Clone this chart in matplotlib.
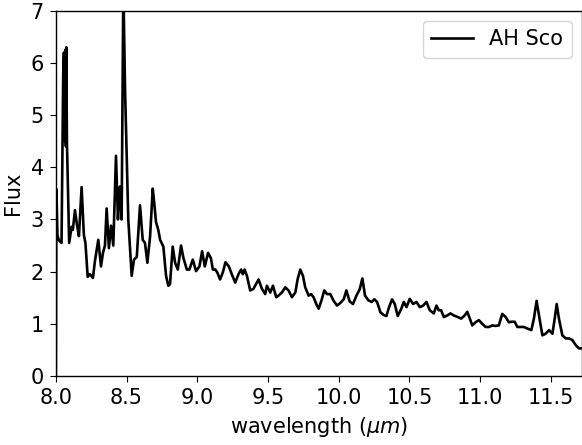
import matplotlib
matplotlib.use("Agg")
import matplotlib.pyplot as plt
import numpy as np

# spectrum of AH Sco
wavelength = [
    8.000, 8.004, 8.011, 8.021, 8.040, 8.052, 8.057, 8.064, 8.067, 8.071,
    8.074, 8.078, 8.094, 8.111, 8.120, 8.135, 8.149, 8.163, 8.182, 8.198,
    8.209, 8.225, 8.241, 8.262, 8.276, 8.300, 8.319, 8.333, 8.347, 8.359,
    8.375, 8.390, 8.406, 8.425, 8.439, 8.446, 8.453, 8.465, 8.477, 8.489,
    8.512, 8.536, 8.552, 8.572, 8.595, 8.614, 8.630, 8.647, 8.666, 8.685,
    8.696, 8.708, 8.724, 8.737, 8.760, 8.779, 8.795, 8.807, 8.826, 8.843,
    8.862, 8.885, 8.902, 8.926, 8.944, 8.968, 8.991, 9.015, 9.034, 9.053,
    9.076, 9.096, 9.110, 9.128, 9.142, 9.161, 9.181, 9.199, 9.223, 9.244,
    9.268, 9.291, 9.310, 9.322, 9.334, 9.351, 9.374, 9.397, 9.433, 9.457,
    9.480, 9.492, 9.516, 9.535, 9.558, 9.574, 9.598, 9.622, 9.645, 9.669,
    9.693, 9.709, 9.728, 9.747, 9.763, 9.787, 9.804, 9.822, 9.841, 9.858,
    9.877, 9.898, 9.917, 9.940, 9.964, 9.988, 10.011, 10.035, 10.054, 10.077,
    10.101, 10.125, 10.148, 10.167, 10.186, 10.210, 10.233, 10.252, 10.271, 10.295,
    10.318, 10.337, 10.356, 10.377, 10.396, 10.417, 10.441, 10.460, 10.479, 10.502,
    10.526, 10.550, 10.573, 10.597, 10.620, 10.644, 10.672, 10.691, 10.707, 10.724,
    10.743, 10.767, 10.790, 10.814, 10.842, 10.866, 10.890, 10.909, 10.927, 10.944,
    10.967, 10.991, 11.015, 11.038, 11.062, 11.086, 11.109, 11.132, 11.156, 11.180,
    11.203, 11.220, 11.244, 11.263, 11.286, 11.309, 11.333, 11.362, 11.380, 11.399,
    11.416, 11.440, 11.463, 11.487, 11.511, 11.527, 11.541, 11.557, 11.581, 11.605,
    11.628, 11.652, 11.676, 11.699, 11.725, 11.750,
]
flux = [
    0.00, 3.58, 2.70, 2.60, 2.55, 5.80, 6.20, 4.50, 6.25, 4.40,
    6.30, 4.50, 2.55, 2.86, 2.80, 3.18, 2.90, 2.68, 3.62, 2.70,
    2.55, 1.90, 1.95, 1.88, 2.20, 2.61, 2.10, 2.36, 2.50, 3.21,
    2.45, 2.88, 2.50, 4.22, 3.00, 3.38, 3.63, 3.00, 7.50, 5.50,
    3.00, 1.92, 2.23, 2.28, 3.27, 2.61, 2.55, 2.17, 2.67, 3.59,
    3.30, 2.95, 2.80, 2.61, 2.48, 1.92, 1.73, 1.76, 2.48, 2.17,
    2.04, 2.50, 2.26, 2.04, 2.04, 2.23, 2.01, 2.10, 2.39, 2.10,
    2.36, 2.26, 2.04, 2.04, 1.98, 1.85, 1.99, 2.18, 2.10, 1.95,
    1.79, 1.95, 2.04, 1.95, 2.04, 1.92, 1.64, 1.67, 1.85, 1.67,
    1.57, 1.73, 1.60, 1.73, 1.51, 1.54, 1.60, 1.70, 1.64, 1.51,
    1.60, 1.85, 2.04, 1.92, 1.70, 1.54, 1.57, 1.51, 1.38, 1.29,
    1.44, 1.64, 1.57, 1.57, 1.44, 1.35, 1.40, 1.47, 1.64, 1.43,
    1.38, 1.54, 1.66, 1.87, 1.54, 1.45, 1.42, 1.47, 1.42, 1.22,
    1.17, 1.15, 1.32, 1.47, 1.38, 1.15, 1.28, 1.42, 1.32, 1.48,
    1.38, 1.42, 1.32, 1.35, 1.42, 1.26, 1.20, 1.35, 1.26, 1.26,
    1.13, 1.16, 1.20, 1.16, 1.13, 1.10, 1.16, 1.23, 1.10, 0.97,
    1.03, 1.07, 1.00, 0.94, 0.94, 0.97, 0.96, 0.97, 1.19, 1.13,
    1.03, 1.04, 1.04, 0.94, 0.94, 0.94, 0.91, 0.88, 1.10, 1.44,
    1.16, 0.78, 0.81, 0.88, 0.81, 1.10, 1.38, 1.10, 0.78, 0.72,
    0.72, 0.69, 0.59, 0.53, 0.53, 0.52,
]

fig = plt.figure(figsize=(5.82, 4.45), dpi=100)
ax = fig.add_axes([0.096, 0.155, 0.904, 0.821])
ax.plot(wavelength, flux, color='black', lw=1.9, label='AH Sco')
ax.set_xlim(8.0, 11.72)
ax.set_ylim(0, 7)
ax.set_xticks(np.arange(8.0, 11.51, 0.5))
ax.tick_params(labelsize=15, length=4.4, pad=4.3)
for s in ax.spines.values():
    s.set_linewidth(1.0)
ax.set_xlabel(r'wavelength ($\mu m$)', fontsize=15, labelpad=5)
ax.set_ylabel('Flux', fontsize=15, labelpad=5)
ax.legend(loc='upper right', fontsize=15)
fig.savefig('out.png', dpi=100)
